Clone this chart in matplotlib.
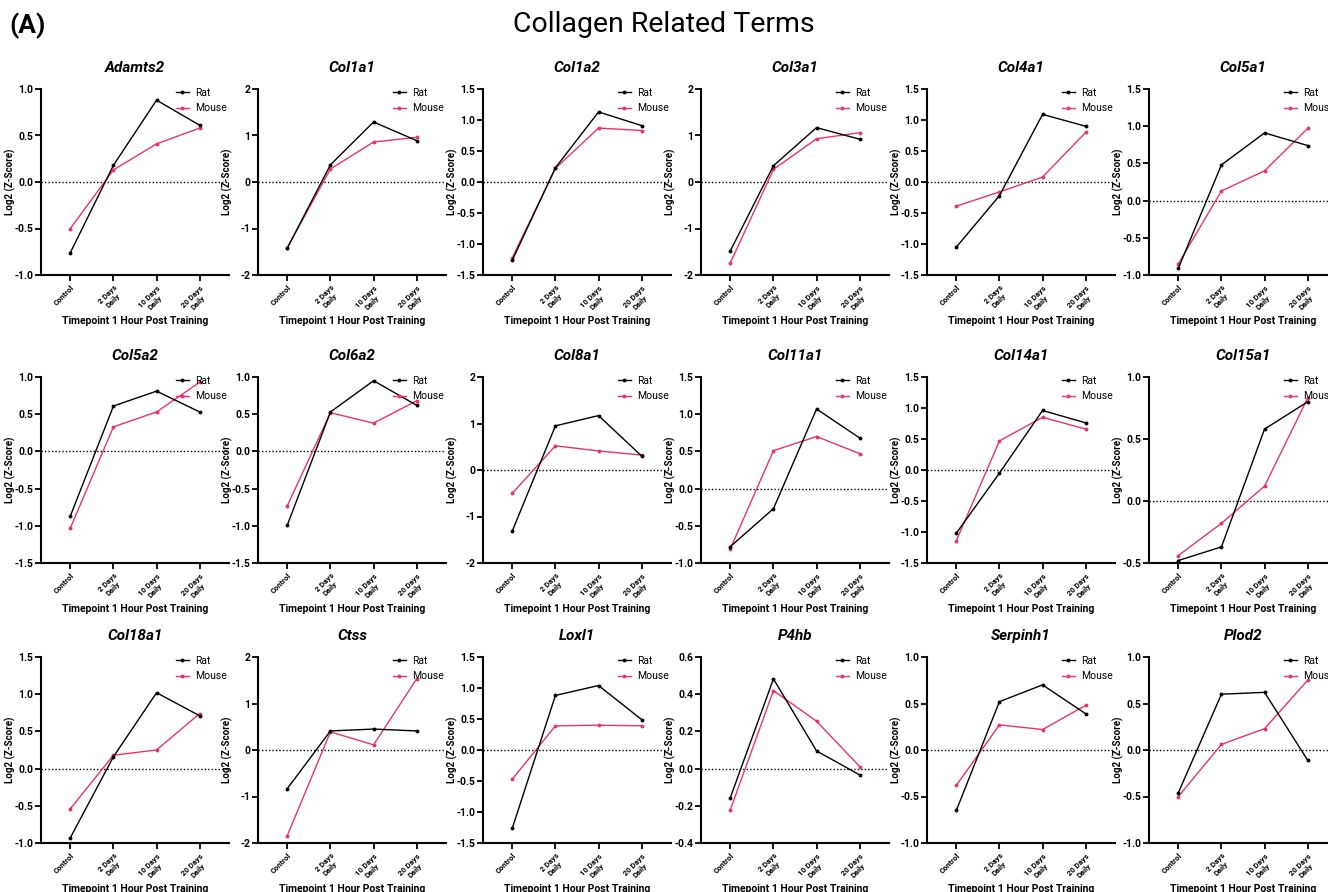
import numpy as np
import matplotlib
matplotlib.use("Agg")
import matplotlib.pyplot as plt
from matplotlib.ticker import FixedLocator, FormatStrFormatter

plt.rcParams['font.family'] = ['Roboto', 'DejaVu Sans']

# data
timepoints = ["Control", "2 Days\nDaily", "10 Days\nDaily", "20 Days\nDaily"]
genes = ["Adamts2", "Col1a1", "Col1a2", "Col3a1", "Col4a1", "Col5a1",
         "Col5a2", "Col6a2", "Col8a1", "Col11a1", "Col14a1", "Col15a1",
         "Col18a1", "Ctss", "Loxl1", "P4hb", "Serpinh1", "Plod2"]

rat = [
    [-0.76, 0.18, 0.88, 0.61],
    [-1.42, 0.37, 1.29, 0.89],
    [-1.26, 0.23, 1.13, 0.91],
    [-1.48, 0.35, 1.17, 0.92],
    [-1.05, -0.22, 1.09, 0.90],
    [-0.91, 0.48, 0.91, 0.74],
    [-0.87, 0.61, 0.81, 0.53],
    [-0.99, 0.53, 0.95, 0.62],
    [-1.31, 0.95, 1.17, 0.30],
    [-0.78, -0.27, 1.07, 0.68],
    [-1.02, -0.05, 0.96, 0.76],
    [-0.48, -0.37, 0.58, 0.80],
    [-0.93, 0.16, 1.02, 0.71],
    [-0.83, 0.41, 0.45, 0.41],
    [-1.26, 0.88, 1.04, 0.49],
    [-0.156, 0.482, 0.095, -0.034],
    [-0.65, 0.52, 0.70, 0.39],
    [-0.46, 0.60, 0.62, -0.11],
]
mouse = [
    [-0.50, 0.13, 0.41, 0.58],
    [-1.41, 0.28, 0.86, 0.96],
    [-1.22, 0.22, 0.87, 0.83],
    [-1.74, 0.27, 0.93, 1.06],
    [-0.39, -0.16, 0.08, 0.80],
    [-0.85, 0.13, 0.40, 0.97],
    [-1.03, 0.33, 0.53, 0.93],
    [-0.73, 0.52, 0.38, 0.68],
    [-0.50, 0.52, 0.41, 0.32],
    [-0.81, 0.51, 0.70, 0.47],
    [-1.14, 0.47, 0.85, 0.66],
    [-0.44, -0.18, 0.12, 0.83],
    [-0.54, 0.18, 0.25, 0.74],
    [-1.84, 0.39, 0.11, 1.53],
    [-0.47, 0.39, 0.40, 0.39],
    [-0.221, 0.419, 0.255, 0.011],
    [-0.38, 0.27, 0.22, 0.48],
    [-0.50, 0.06, 0.23, 0.75],
]
# y-axis range and tick step for each panel
ylims = [(-1, 1), (-2, 2), (-1.5, 1.5), (-2, 2), (-1.5, 1.5), (-1, 1.5),
         (-1.5, 1), (-1.5, 1), (-2, 2), (-1, 1.5), (-1.5, 1.5), (-0.5, 1),
         (-1, 1.5), (-2, 2), (-1.5, 1.5), (-0.4, 0.6), (-1, 1), (-1, 1)]
ysteps = [0.5, 1, 0.5, 1, 0.5, 0.5,
          0.5, 0.5, 1, 0.5, 0.5, 0.5,
          0.5, 1, 0.5, 0.2, 0.5, 0.5]

RAT_C = "black"
MOUSE_C = "#e8336f"

fig = plt.figure(figsize=(13.28, 8.92), dpi=100)
fig.text(0.5, 0.973, "Collagen Related Terms", ha="center", va="center", fontsize=20.5)
fig.text(0.007, 0.971, "(A)", ha="left", va="center", fontsize=19, fontweight="bold")

W, H = 1328.0, 892.0
col_left = [41, 258, 483, 701, 927, 1149]
row_top = [89, 377, 657]
ax_w, ax_h = 188, 186

for i, g in enumerate(genes):
    r, c = divmod(i, 6)
    ax = fig.add_axes([col_left[c] / W, 1 - (row_top[r] + ax_h) / H, ax_w / W, ax_h / H])
    x = np.arange(len(timepoints))
    ax.axhline(0, color="black", linestyle=(0, (1, 1.5)), linewidth=1.0, zorder=1)
    ax.plot(x, rat[i], color=RAT_C, lw=1.0, marker="o", ms=1.8, label="Rat", zorder=3)
    ax.plot(x, mouse[i], color=MOUSE_C, lw=1.0, marker="o", ms=1.8, label="Mouse", zorder=2)
    lo, hi = ylims[i]
    ax.set_ylim(lo, hi)
    ax.set_xlim(-0.68, 3.68)
    ticks = np.round(np.arange(lo, hi + 1e-9, ysteps[i]), 2)
    ax.yaxis.set_major_locator(FixedLocator(ticks))
    if ysteps[i] == 1:
        ax.yaxis.set_major_formatter(FormatStrFormatter("%d"))
    else:
        ax.yaxis.set_major_formatter(FormatStrFormatter("%.1f"))
    ax.set_xticks(x)
    ax.set_xticklabels(timepoints, rotation=45, ha="right", va="top",
                       rotation_mode="anchor", fontsize=5.5, fontweight="bold",
                       multialignment="center")
    for s in ["top", "right"]:
        ax.spines[s].set_visible(False)
    for s in ["left", "bottom"]:
        ax.spines[s].set_linewidth(1.5)
    ax.tick_params(axis="both", width=1.3, length=4, direction="out")
    ax.tick_params(axis="y", labelsize=7.5, pad=1.5)
    ax.tick_params(axis="x", pad=2.5)
    for lab in ax.get_yticklabels():
        lab.set_fontweight("bold")
    ax.set_ylabel("Log2 (Z-Score)", fontsize=7, fontweight="bold")
    ax.yaxis.set_label_coords(-0.135, 0.5)
    ax.set_xlabel("Timepoint 1 Hour Post Training", fontsize=7.5, fontweight="bold", labelpad=1)
    ax.set_title(g, fontsize=11, fontweight="bold", fontstyle="italic", pad=12)
    ax.legend(loc="upper right", bbox_to_anchor=(1.01, 1.03), frameon=False,
              fontsize=7.5, handlelength=1.2, handletextpad=0.6, labelspacing=0.55,
              borderaxespad=0)

fig.savefig("out.png", dpi=100)
